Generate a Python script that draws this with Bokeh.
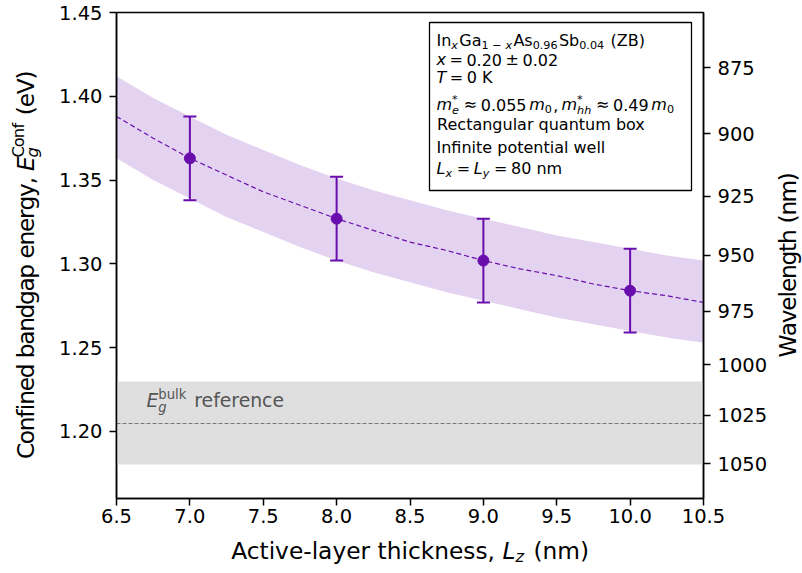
import math
from bokeh.plotting import figure
from bokeh.layouts import column, row
from bokeh.models import (Range1d, LinearAxis, FixedTicker, PrintfTickFormatter,
                          CustomJSTickFormatter, ColumnDataSource, Whisker, TeeHead,
                          Label, BoxAnnotation)
from bokeh.embed import file_html
from bokeh.resources import INLINE

# ---------------- data ----------------
thickness_nm = [7.0, 8.0, 9.0, 10.0]
eg_conf = [1.363, 1.327, 1.302, 1.284]
eg_err = [0.025, 0.025, 0.025, 0.025]

curve_lz = [6.5, 6.75, 7.0, 7.25, 7.5, 7.75, 8.0, 8.25, 8.5, 8.75,
            9.0, 9.25, 9.5, 9.75, 10.0, 10.25, 10.5]
curve_eg = [1.388, 1.375, 1.363, 1.353, 1.343, 1.335, 1.327, 1.320, 1.313, 1.308,
            1.302, 1.297, 1.293, 1.288, 1.284, 1.281, 1.277]
band_hi = [1.412, 1.399, 1.388, 1.377, 1.368, 1.359, 1.351, 1.344, 1.338, 1.332,
           1.327, 1.322, 1.317, 1.313, 1.309, 1.305, 1.302]
band_lo = [1.363, 1.350, 1.339, 1.328, 1.319, 1.310, 1.302, 1.295, 1.289, 1.283,
           1.278, 1.273, 1.268, 1.264, 1.260, 1.256, 1.253]

eg_bulk = [1.205]
bulk_lo = [1.180]
bulk_hi = [1.230]

x_ticks = [6.5, 7.0, 7.5, 8.0, 8.5, 9.0, 9.5, 10.0, 10.5]
y_ticks = [1.20, 1.25, 1.30, 1.35, 1.40, 1.45]
wl_ticks_nm = [875, 900, 925, 950, 975, 1000, 1025, 1050]
HC_EV_NM = 1239.84

# ---------------- layout constants (canvas pixels) ----------------
W_CANVAS, H_CANVAS = 802, 573
FL, FR, FT, FB = 116, 703, 12, 498          # main frame edges
XR = (6.5, 10.5)
YR = (1.16, 1.45)
YL_W = 46          # left strip for the y label
RL_X = 772         # right strip for the wavelength label starts here
ROW_H = 536        # height of the row holding the main plot
PURPLE = "#6a0dad"
FONT = "DejaVu Sans"
MID = 0.35         # glyph-box middle above the baseline, in em
ROT_FIX_PX = 23.0  # along-text correction for rotated labels, in px


def dx(px):
    return XR[0] + (px - FL) / (FR - FL) * (XR[1] - XR[0])


def dy(py):
    return YR[1] - (py - FT) / (FB - FT) * (YR[1] - YR[0])


def ident(v):
    return v


p = figure(width=RL_X - YL_W, height=ROW_H,
           x_range=Range1d(*XR), y_range=Range1d(*YR),
           output_backend="svg", toolbar_location=None,
           min_border_left=FL - YL_W, min_border_right=RL_X - FR,
           min_border_top=FT, min_border_bottom=ROW_H - FB)
p.xgrid.visible = False
p.ygrid.visible = False
p.background_fill_color = "white"
p.border_fill_color = "white"
p.outline_line_color = "black"
p.outline_line_width = 1.5
p.outline_line_alpha = 1.0

p.xaxis[0].ticker = FixedTicker(ticks=x_ticks)
p.xaxis[0].formatter = PrintfTickFormatter(format="%.1f")
p.yaxis[0].ticker = FixedTicker(ticks=y_ticks)
p.yaxis[0].formatter = PrintfTickFormatter(format="%.2f")

right_axis = LinearAxis(
    ticker=FixedTicker(ticks=[HC_EV_NM / w for w in wl_ticks_nm]),
    formatter=CustomJSTickFormatter(code="return (1239.84 / tick).toFixed(0);"))
p.add_layout(right_axis, "right")

for ax in [p.xaxis[0], p.yaxis[0], right_axis]:
    ax.axis_line_color = "black"
    ax.axis_line_width = 1.5
    ax.major_tick_line_color = "black"
    ax.major_tick_line_width = 1.5
    ax.major_tick_in = 0
    ax.major_tick_out = 7
    ax.minor_tick_line_color = None
    ax.major_label_text_font = FONT
    ax.major_label_text_font_size = "19.5px"
    ax.major_label_text_color = "black"
    ax.major_label_standoff = 7
p.xaxis[0].major_label_standoff = 3

# ---------------- glyphs ----------------
p.hstrip(y0=bulk_lo, y1=bulk_hi, fill_color="#dfdfdf", line_color=None)
p.hspan(y=eg_bulk, line_color="#777777", line_width=1, line_dash="4 2")

p.varea(x=curve_lz, y1=band_lo, y2=band_hi, fill_color=PURPLE, fill_alpha=0.18)
p.line(curve_lz, curve_eg, line_color=PURPLE, line_width=1.2, line_dash="5 3")

src = ColumnDataSource(dict(
    x=thickness_nm, y=eg_conf,
    upper=[e + d for e, d in zip(eg_conf, eg_err)],
    lower=[e - d for e, d in zip(eg_conf, eg_err)]))
wh = Whisker(source=src, base="x", upper="upper", lower="lower",
             line_color=PURPLE, line_width=2, level="glyph",
             upper_head=TeeHead(size=13, line_color=PURPLE, line_width=2),
             lower_head=TeeHead(size=13, line_color=PURPLE, line_width=2))
p.add_layout(wh)
p.scatter("x", "y", source=src, size=11, color=PURPLE)


# ---------------- label strips (separate figures so text is not clipped) ----------------
def strip(w, h, x0, x1, y_bottom, y_top):
    f = figure(width=w, height=h, x_range=Range1d(x0, x1),
               y_range=Range1d(y_bottom, y_top),
               output_backend="svg", toolbar_location=None,
               x_axis_location=None, y_axis_location=None, min_border=0)
    f.xgrid.visible = False
    f.ygrid.visible = False
    f.outline_line_color = None
    f.background_fill_color = "white"
    f.border_fill_color = "white"
    return f


yl = strip(YL_W, ROW_H, 0, YL_W, ROW_H, 0)
rl = strip(W_CANVAS - RL_X, ROW_H, RL_X, W_CANVAS, ROW_H, 0)
xl = strip(W_CANVAS, H_CANVAS - ROW_H, 0, W_CANVAS, H_CANVAS, ROW_H)

# ---------------- rich text helper (DejaVu Sans advance widths) ----------------
ADV = {' ': 651, '(': 799, ')': 799, '*': 1024, ',': 651, '-': 739, '.': 651,
       '=': 1716, '±': 1716, '≈': 1716, '−': 1716,
       'A': 1401, 'B': 1405, 'C': 1430, 'D': 1577, 'E': 1294, 'F': 1178, 'G': 1587,
       'H': 1540, 'I': 604, 'J': 604, 'K': 1343, 'L': 1141, 'M': 1767, 'N': 1532,
       'O': 1612, 'P': 1235, 'Q': 1612, 'R': 1423, 'S': 1300, 'T': 1251, 'U': 1499,
       'V': 1401, 'W': 2025, 'X': 1403, 'Y': 1251, 'Z': 1403,
       'a': 1255, 'b': 1300, 'c': 1126, 'd': 1300, 'e': 1260, 'f': 721, 'g': 1300,
       'h': 1298, 'i': 569, 'j': 569, 'k': 1186, 'l': 569, 'm': 1995, 'n': 1298,
       'o': 1253, 'p': 1300, 'q': 1300, 'r': 842, 's': 1067, 't': 803, 'u': 1298,
       'v': 1212, 'w': 1675, 'x': 1212, 'y': 1212, 'z': 1075}
for d in "0123456789":
    ADV[d] = 1303


def tw(t, size):
    return sum(ADV.get(c, 1250) for c in t) / 2048.0 * size


def rich(fig, mx, my, segs, x0, y0, size, color="black", angle=0.0, anchor="left"):
    """Lay out mathtext-like segments; each piece is centred on its own box.
    Rotated text is placed character by character."""
    items = []
    pos = 0.0
    sc = 0.7
    ss = 0.08 * size          # small space after a script
    for s in segs:
        k = s[0]
        if k == "n":
            w = tw(s[1], size)
            items.append((pos, w, 0.0, s[1], size, s[2]))
            pos += w
        elif k == "b":
            fs = size * sc
            w = tw(s[1], fs)
            items.append((pos, w, -0.16 * size, s[1], fs, s[2]))
            pos += w + ss
        elif k == "bp":
            fs = size * sc
            w1, w2 = tw(s[1][0], fs), tw(s[2][0], fs)
            items.append((pos, w1, -0.22 * size, s[1][0], fs, s[1][1]))
            items.append((pos, w2, 0.42 * size, s[2][0], fs, s[2][1]))
            pos += max(w1, w2) + ss
        elif k == "s":
            pos += s[1] * size
        elif k == "bs":
            pos += s[1] * size * sc
    if angle != 0:
        split = []
        for along, w, perp, text, fs, it in items:
            a = along
            for ch in text:
                cw = tw(ch, fs)
                if ch != " ":
                    split.append((a, cw, perp, ch, fs, it))
                a += cw
        items = split
    start = 0.0 if anchor == "left" else -pos / 2.0
    for along, w, perp, text, fs, it in items:
        a = start + along + w / 2.0            # centre along the text direction
        q = perp + MID * fs                    # middle of the glyph box, "up" positive
        if angle == 0:
            cxp, cyp = x0 + a, y0 - q
        else:
            a -= ROT_FIX_PX
            cxp, cyp = x0 - q, y0 - a
        fig.add_layout(Label(x=mx(cxp), y=my(cyp), text=text.strip().replace(" ", "\u00a0"),
                             text_font=FONT, text_font_size=f"{fs:.1f}px",
                             text_font_style="italic" if it else "normal",
                             text_color=color, text_align="center",
                             text_baseline="middle", angle=angle))


def seg_text(t, it=False):
    """Split a plain text so leading/trailing blanks become layout space."""
    out = []
    lead = len(t) - len(t.lstrip(" "))
    trail = len(t) - len(t.rstrip(" "))
    if lead:
        out.append(("s", lead * 651 / 2048.0))
    out.append(("n", t.strip(" "), it))
    if trail:
        out.append(("s", trail * 651 / 2048.0))
    return out


F, T = False, True
# axis labels
rich(yl, ident, ident,
     seg_text("Confined bandgap energy, ") + [("n", "E", T),
     ("bp", ("g", T), ("Conf", F))] + seg_text(" (eV)"),
     33.0, (FT + FB) / 2, 23.3, angle=math.pi / 2, anchor="center")
rich(xl, ident, ident,
     seg_text("Active-layer thickness, ") + [("n", "L", T), ("b", "z", T)] +
     seg_text(" (nm)"),
     (FL + FR) / 2, 558, 23.3, anchor="center")
rich(rl, ident, ident, seg_text("Wavelength (nm)"), 795, (FT + FB) / 2, 23.3,
     angle=math.pi / 2, anchor="center")

# bulk reference label
rich(p, dx, dy, [("n", "E", T), ("bp", ("g", T), ("bulk", F))] + seg_text(" reference"),
     146, 407, 18.8, color="#555555")

# info box
p.add_layout(BoxAnnotation(left=dx(429), right=dx(691), top=dy(22), bottom=dy(190),
                           fill_color="white", fill_alpha=1.0,
                           line_color="black", line_alpha=1.0, line_width=1.3))
BX, BS = 436, 16
sp = 0.22
rich(p, dx, dy, [("n", "In", F), ("b", "x", T), ("n", "Ga", F), ("b", "1", F), ("bs", sp),
                 ("b", "−", F), ("bs", sp), ("b", "x", T), ("n", "As", F), ("b", "0.96", F),
                 ("n", "Sb", F), ("b", "0.04", F)] + seg_text(" (ZB)"), BX, 46, BS)
rich(p, dx, dy, [("n", "x", T), ("s", sp), ("n", "=", F), ("s", sp), ("n", "0.20", F),
                 ("s", sp), ("n", "±", F), ("s", sp), ("n", "0.02", F)], BX, 65, BS)
rich(p, dx, dy, [("n", "T", T), ("s", sp), ("n", "=", F), ("s", sp), ("n", "0 K", F)],
     BX, 83, BS)
rich(p, dx, dy, [("n", "m", T), ("bp", ("e", T), ("*", F)), ("s", sp), ("n", "≈", F),
                 ("s", sp), ("n", "0.055", F), ("s", 0.17), ("n", "m", T), ("b", "0", F),
                 ("n", ",", F), ("s", 0.2), ("n", "m", T), ("bp", ("hh", T), ("*", F)),
                 ("s", sp), ("n", "≈", F), ("s", sp), ("n", "0.49", F), ("s", 0.17),
                 ("n", "m", T), ("b", "0", F)], BX, 110, BS)
rich(p, dx, dy, seg_text("Rectangular quantum box"), BX, 130, BS)
rich(p, dx, dy, seg_text("Infinite potential well"), BX, 153, BS)
rich(p, dx, dy, [("n", "L", T), ("b", "x", T), ("s", sp), ("n", "=", F), ("s", sp),
                 ("n", "L", T), ("b", "y", T), ("s", sp), ("n", "=", F), ("s", sp),
                 ("n", "80 nm", F)], BX, 174, BS)

layout = column(row(yl, p, rl), xl)
open("out.html", "w").write(file_html(layout, INLINE))
